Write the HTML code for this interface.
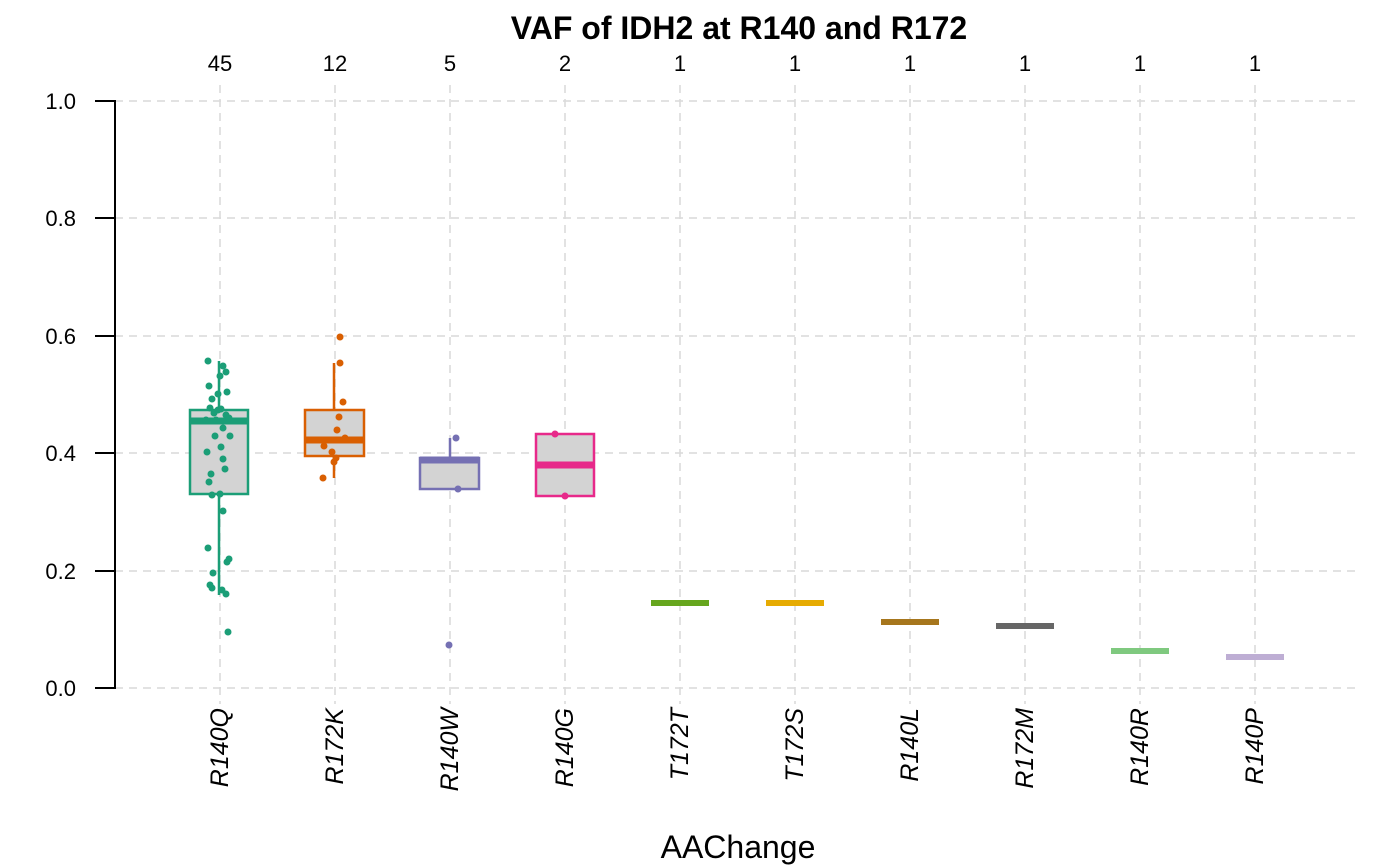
<!DOCTYPE html>
<html><head><meta charset="utf-8"><style>body{margin:0;background:#fff}svg{display:block}</style></head><body>
<svg width="1400" height="865" xmlns="http://www.w3.org/2000/svg" font-family="Liberation Sans, sans-serif">
<g stroke="#d9d9d9" stroke-width="1.5" stroke-dasharray="8,6">
<line x1="115" x2="1355" y1="101" y2="101"/><line x1="115" x2="1355" y1="218" y2="218"/><line x1="115" x2="1355" y1="336" y2="336"/><line x1="115" x2="1355" y1="453" y2="453"/><line x1="115" x2="1355" y1="571" y2="571"/><line x1="115" x2="1355" y1="688" y2="688"/>
<line x1="220" x2="220" y1="85" y2="704"/><line x1="335" x2="335" y1="85" y2="704"/><line x1="450" x2="450" y1="85" y2="704"/><line x1="565" x2="565" y1="85" y2="704"/><line x1="680" x2="680" y1="85" y2="704"/><line x1="795" x2="795" y1="85" y2="704"/><line x1="910" x2="910" y1="85" y2="704"/><line x1="1025" x2="1025" y1="85" y2="704"/><line x1="1140" x2="1140" y1="85" y2="704"/><line x1="1255" x2="1255" y1="85" y2="704"/>
</g>
<g stroke="#000" stroke-width="2"><line x1="115" x2="115" y1="100" y2="689"/>
<line x1="95" x2="115" y1="101" y2="101"/><line x1="95" x2="115" y1="218" y2="218"/><line x1="95" x2="115" y1="336" y2="336"/><line x1="95" x2="115" y1="453" y2="453"/><line x1="95" x2="115" y1="571" y2="571"/><line x1="95" x2="115" y1="688" y2="688"/></g>
<g font-size="22" text-anchor="end" fill="#000"><text x="76" y="109">1.0</text><text x="76" y="226">0.8</text><text x="76" y="344">0.6</text><text x="76" y="461">0.4</text><text x="76" y="579">0.2</text><text x="76" y="696">0.0</text></g>
<text x="739" y="39" font-size="32" font-weight="bold" text-anchor="middle">VAF of IDH2 at R140 and R172</text>
<g font-size="22" text-anchor="middle"><text x="220" y="71">45</text><text x="335" y="71">12</text><text x="450" y="71">5</text><text x="565" y="71">2</text><text x="680" y="71">1</text><text x="795" y="71">1</text><text x="910" y="71">1</text><text x="1025" y="71">1</text><text x="1140" y="71">1</text><text x="1255" y="71">1</text></g>
<text x="738" y="858" font-size="32" text-anchor="middle">AAChange</text>
<g font-size="25" font-style="italic" text-anchor="end">
<text transform="translate(228,708) rotate(-90)">R140Q</text><text transform="translate(343,708) rotate(-90)">R172K</text><text transform="translate(458,708) rotate(-90)">R140W</text><text transform="translate(573,708) rotate(-90)">R140G</text><text transform="translate(688,708) rotate(-90)">T172T</text><text transform="translate(803,708) rotate(-90)">T172S</text><text transform="translate(918,708) rotate(-90)">R140L</text><text transform="translate(1033,708) rotate(-90)">R172M</text><text transform="translate(1148,708) rotate(-90)">R140R</text><text transform="translate(1263,708) rotate(-90)">R140P</text></g>
<g stroke-width="2.5">
<line x1="219" x2="219" y1="361" y2="595" stroke="#1B9E77"/>
<rect x="190" y="410" width="58" height="84" fill="#d3d3d3" stroke="#1B9E77"/>
<line x1="190" x2="248" y1="421" y2="421" stroke="#1B9E77" stroke-width="7"/>
<line x1="334" x2="334" y1="363" y2="478" stroke="#D95F02"/>
<rect x="305" y="410" width="59" height="46" fill="#d3d3d3" stroke="#D95F02"/>
<line x1="305" x2="364" y1="440" y2="440" stroke="#D95F02" stroke-width="7"/>
<line x1="450" x2="450" y1="438" y2="458" stroke="#7570B3"/>
<rect x="420" y="458" width="59" height="31" fill="#d3d3d3" stroke="#7570B3"/>
<line x1="420" x2="479" y1="460" y2="460" stroke="#7570B3" stroke-width="7"/>
<rect x="536" y="434" width="58" height="62" fill="#d3d3d3" stroke="#E7298A"/>
<line x1="536" x2="594" y1="465" y2="465" stroke="#E7298A" stroke-width="7"/>
</g>
<g stroke-width="6">
<line x1="651" x2="709" y1="603" y2="603" stroke="#66A61E"/>
<line x1="766" x2="824" y1="603" y2="603" stroke="#E6AB02"/>
<line x1="881" x2="939" y1="622" y2="622" stroke="#A6761D"/>
<line x1="996" x2="1054" y1="626" y2="626" stroke="#666666"/>
<line x1="1111" x2="1169" y1="651" y2="651" stroke="#7FC97F"/>
<line x1="1226" x2="1284" y1="657" y2="657" stroke="#BEAED4"/>
</g>
<g fill="#1B9E77">
<circle cx="208" cy="361" r="3.5"/><circle cx="223" cy="366" r="3.5"/><circle cx="226" cy="372" r="3.5"/><circle cx="220" cy="376" r="3.5"/><circle cx="209" cy="386" r="3.5"/><circle cx="227" cy="392" r="3.5"/><circle cx="218" cy="394" r="3.5"/><circle cx="210" cy="408" r="3.5"/><circle cx="221" cy="409" r="3.5"/><circle cx="214" cy="413" r="3.5"/><circle cx="226" cy="415" r="3.5"/><circle cx="206" cy="420" r="3.5"/><circle cx="223" cy="428" r="3.5"/><circle cx="215" cy="436" r="3.5"/><circle cx="230" cy="436" r="3.5"/><circle cx="221" cy="447" r="3.5"/><circle cx="207" cy="452" r="3.5"/><circle cx="223" cy="459" r="3.5"/><circle cx="225" cy="469" r="3.5"/><circle cx="211" cy="474" r="3.5"/><circle cx="209" cy="482" r="3.5"/><circle cx="212" cy="495" r="3.5"/><circle cx="220" cy="494" r="3.5"/><circle cx="223" cy="511" r="3.5"/><circle cx="208" cy="548" r="3.5"/><circle cx="229" cy="559" r="3.5"/><circle cx="227" cy="562" r="3.5"/><circle cx="213" cy="573" r="3.5"/><circle cx="210" cy="585" r="3.5"/><circle cx="212" cy="588" r="3.5"/><circle cx="222" cy="590" r="3.5"/><circle cx="226" cy="594" r="3.5"/><circle cx="228" cy="632" r="3.5"/><circle cx="216" cy="420" r="3.5"/><circle cx="229" cy="418" r="3.5"/><circle cx="212" cy="399" r="3.5"/><circle cx="218" cy="410" r="3.5"/>
</g>
<g fill="#D95F02"><circle cx="340" cy="337" r="3.5"/><circle cx="340" cy="363" r="3.5"/><circle cx="343" cy="402" r="3.5"/><circle cx="339" cy="417" r="3.5"/><circle cx="337" cy="430" r="3.5"/><circle cx="324" cy="446" r="3.5"/><circle cx="332" cy="452" r="3.5"/><circle cx="336" cy="458" r="3.5"/><circle cx="334" cy="462" r="3.5"/><circle cx="323" cy="478" r="3.5"/><circle cx="345" cy="438" r="3.5"/></g>
<g fill="#7570B3"><circle cx="456" cy="438" r="3.5"/><circle cx="458" cy="489" r="3.5"/><circle cx="449" cy="645" r="3.5"/></g>
<g fill="#E7298A"><circle cx="555" cy="434" r="3.5"/><circle cx="565" cy="496" r="3.5"/></g>
</svg>
</body></html>
